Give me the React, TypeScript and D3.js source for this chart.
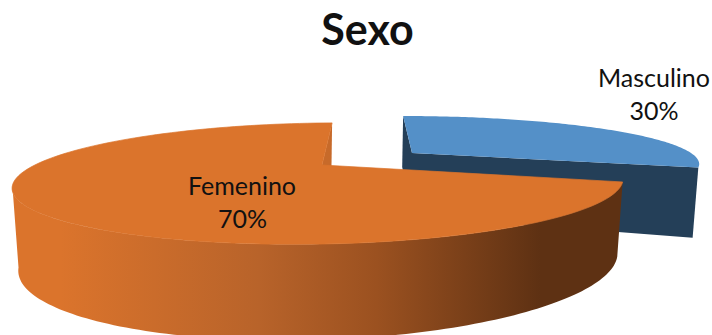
import * as d3 from "d3";

const categories = ["Masculino", "Femenino"];
const shares = [30, 70];
const chartTitle = "Sexo";

type Rim = { ax: number; ay: number; a: number; b: number; k: number; shear: number; roll: number };

// Perspective projection of a circular rim; angle 0 is twelve o'clock, clockwise.
const project = (r: Rim, theta: number): [number, number] => {
  const u = Math.sin(theta);
  const v = -Math.cos(theta);
  const w = 1 - r.k * v;
  const dx = (r.a * u) / w;
  const dy = (r.b * v) / w;
  return [r.ax + dx - r.shear * dy, r.ay + dy + r.roll * dx];
};

const blueTop: Rim = { ax: 412, ay: 153, a: 279, b: 44.4, k: 0.2, shear: -0.24, roll: 0 };
const blueBottom: Rim = { ax: 412, ay: 216, a: 263, b: 64, k: 0.306, shear: -0.2, roll: 0 };
const orangeTop: Rim = { ax: 322, ay: 165, a: 290.5, b: 55, k: 0.306, shear: 0.24, roll: -0.006 };
const orangeBottom: Rim = { ax: 322, ay: 238, a: 285, b: 71, k: 0.306, shear: 0.17, roll: -0.018 };

const line = d3.line<[number, number]>();
const samples = (from: number, to: number) => d3.range(0, 121).map((i) => from + ((to - from) * i) / 120);
const arcPoints = (r: Rim, from: number, to: number) => samples(from, to).map((t) => project(r, t));
const closed = (pts: [number, number][]) => `${line(pts)}Z`;

export default function App() {
  const arcs = d3.pie<number>().sort(null)(shares);
  const [male, female] = arcs;
  const LEFT_EDGE = (252 * Math.PI) / 180;
  const apexOf = (r: Rim) => project({ ...r, a: 0, b: 0 }, 0);

  return (
    <svg width={712} height={335} style={{ position: "absolute", left: 0, top: 0 }} fontFamily="Lato, Carlito, sans-serif">
      <defs>
        <linearGradient id="orangeWall" gradientUnits="userSpaceOnUse" x1={30} x2={540} y1={0} y2={0}>
          <stop offset="0" stopColor="#db742c" />
          <stop offset="0.06" stopColor="#db742c" />
          <stop offset="0.45" stopColor="#b8632a" />
          <stop offset="0.68" stopColor="#9b5120" />
          <stop offset="1" stopColor="#5e3113" />
        </linearGradient>
      </defs>

      {/* Masculino slice: cut faces, outer wall, then the top face */}
      <path
        d={closed([project(blueTop, male.startAngle), apexOf(blueTop), apexOf(blueBottom), project(blueBottom, male.startAngle)])}
        fill="#243f58"
      />
      <path
        d={closed([apexOf(blueTop), project(blueTop, male.endAngle), project(blueBottom, male.endAngle), apexOf(blueBottom)])}
        fill="#243f58"
      />
      <path d={closed([apexOf(blueTop), ...arcPoints(blueTop, male.startAngle, male.endAngle)])} fill="#5490c8" />

      {/* Femenino slice */}
      <path
        d={closed([project(orangeTop, 2 * Math.PI), apexOf(orangeTop), apexOf(orangeBottom), project(orangeBottom, 2 * Math.PI)])}
        fill="#c76a2a"
      />
      <path
        d={closed([...arcPoints(orangeTop, female.startAngle, LEFT_EDGE), ...arcPoints(orangeBottom, female.startAngle, LEFT_EDGE).reverse()])}
        fill="url(#orangeWall)"
      />
      <path
        d={closed([apexOf(orangeTop), ...arcPoints(orangeTop, female.startAngle, female.endAngle)])}
        fill="#db742c"
        stroke="#db742c"
        strokeWidth={0.7}
        strokeLinejoin="round"
      />

      <text x={367.5} y={45} textAnchor="middle" fontSize={43} fontWeight={700} fill="#111">
        {chartTitle}
      </text>
      <g fontSize={25} fill="#111" textAnchor="middle">
        <text x={654} y={87}>{categories[0]}</text>
        <text x={654} y={120}>{shares[0]}%</text>
        <text x={242} y={195}>{categories[1]}</text>
        <text x={242.5} y={228}>{shares[1]}%</text>
      </g>
    </svg>
  );
}
